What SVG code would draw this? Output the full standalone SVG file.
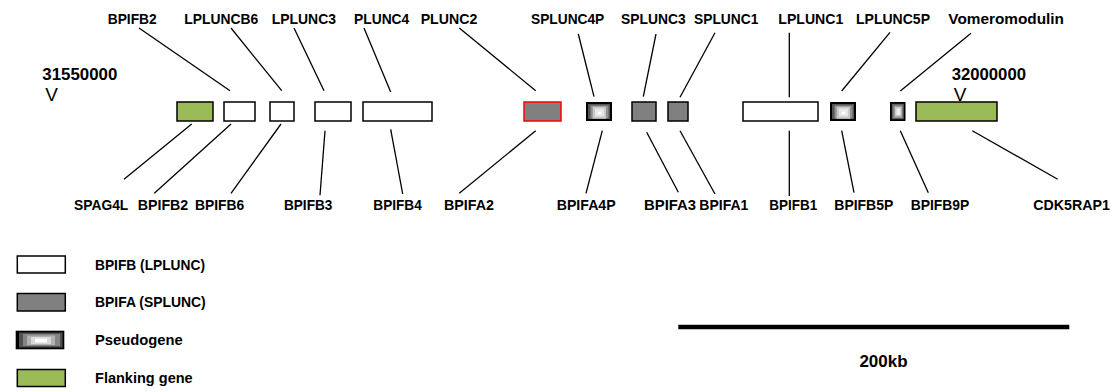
<svg xmlns="http://www.w3.org/2000/svg" width="1117" height="392" viewBox="0 0 1117 392">
<style>
.lb{font-family:"Liberation Sans",Arial,sans-serif;font-weight:bold;font-size:15px;fill:#000}
.lg{font-family:"Liberation Sans",Arial,sans-serif;font-weight:bold;font-size:14.5px;fill:#000}
.pos{font-family:"Liberation Sans",Arial,sans-serif;font-weight:bold;font-size:17px;fill:#000}
.v{font-family:"Liberation Sans",Arial,sans-serif;font-size:19px;fill:#000}
.b{fill:#fff;stroke:#000;stroke-width:1.5}
.a{fill:#808080;stroke:#000;stroke-width:1.5}
.f{fill:#9bbb59;stroke:#000;stroke-width:1.5}
.r{fill:#808080;stroke:#ff0000;stroke-width:1.5}
.c line{stroke:#000;stroke-width:1.3}
</style>
<rect width="1117" height="392" fill="#fff"/>

<text class="pos" x="42.3" y="80" textLength="75" lengthAdjust="spacingAndGlyphs">31550000</text>
<text class="v" x="51.7" y="101" text-anchor="middle">V</text>
<text class="pos" x="951.7" y="80" textLength="74.3" lengthAdjust="spacingAndGlyphs">32000000</text>
<text class="v" x="960" y="101" text-anchor="middle">V</text>

<g class="c" id="connectors">
<line x1="139" y1="28" x2="230" y2="90.7"/>
<line x1="231" y1="28" x2="281.7" y2="90.7"/>
<line x1="294" y1="28" x2="324" y2="90.7"/>
<line x1="364" y1="28" x2="390.7" y2="92"/>
<line x1="459.3" y1="28" x2="535.7" y2="90.7"/>
<line x1="578.3" y1="34" x2="594" y2="96.7"/>
<line x1="656" y1="34" x2="643.3" y2="96.7"/>
<line x1="715" y1="32.7" x2="680" y2="97.3"/>
<line x1="789.3" y1="32.7" x2="789.3" y2="97.3"/>
<line x1="890" y1="32.3" x2="841.7" y2="91"/>
<line x1="971" y1="33.3" x2="900.3" y2="91"/>
<line x1="191.7" y1="124" x2="124" y2="179.3"/>
<line x1="231" y1="124" x2="154.3" y2="193.3"/>
<line x1="281" y1="124" x2="231" y2="193.3"/>
<line x1="325" y1="130.7" x2="320" y2="195.3"/>
<line x1="390.7" y1="129.3" x2="402.7" y2="194"/>
<line x1="535.7" y1="130.7" x2="459.3" y2="193.3"/>
<line x1="602.3" y1="130.7" x2="586" y2="193.3"/>
<line x1="646.7" y1="132.3" x2="678.3" y2="192.3"/>
<line x1="680" y1="130.7" x2="715" y2="194"/>
<line x1="789.3" y1="130.7" x2="789.3" y2="196"/>
<line x1="841.7" y1="130.7" x2="854" y2="192.7"/>
<line x1="900.3" y1="130.7" x2="928.3" y2="192.7"/>
<line x1="972.3" y1="130.7" x2="1057.7" y2="179.3"/>
</g>

<g id="SPAG4L"><rect class="f" x="177" y="102" width="36" height="19"/>
<text class="lb" x="74" y="210" textLength="54.3" lengthAdjust="spacingAndGlyphs">SPAG4L</text></g>
<g id="BPIFB2"><rect class="b" x="224" y="102" width="31" height="19"/>
<text class="lb" x="107.7" y="24" textLength="49" lengthAdjust="spacingAndGlyphs">BPIFB2</text>
<text class="lb" x="137.7" y="210" textLength="50.6" lengthAdjust="spacingAndGlyphs">BPIFB2</text></g>
<g id="BPIFB6"><rect class="b" x="270" y="102" width="24" height="19"/>
<text class="lb" x="184.3" y="24" textLength="74" lengthAdjust="spacingAndGlyphs">LPLUNCB6</text>
<text class="lb" x="195" y="210" textLength="49.3" lengthAdjust="spacingAndGlyphs">BPIFB6</text></g>
<g id="BPIFB3"><rect class="b" x="315" y="102" width="36" height="19"/>
<text class="lb" x="271.7" y="24" textLength="64.3" lengthAdjust="spacingAndGlyphs">LPLUNC3</text>
<text class="lb" x="284" y="210" textLength="48.3" lengthAdjust="spacingAndGlyphs">BPIFB3</text></g>
<g id="BPIFB4"><rect class="b" x="363" y="102" width="69" height="19"/>
<text class="lb" x="354" y="24" textLength="55.3" lengthAdjust="spacingAndGlyphs">PLUNC4</text>
<text class="lb" x="373.3" y="210" textLength="48.4" lengthAdjust="spacingAndGlyphs">BPIFB4</text></g>
<g id="BPIFA2"><rect class="r" x="524" y="102" width="37" height="19"/>
<text class="lb" x="420.7" y="24" textLength="56.6" lengthAdjust="spacingAndGlyphs">PLUNC2</text>
<text class="lb" x="444" y="210" textLength="50" lengthAdjust="spacingAndGlyphs">BPIFA2</text></g>
<g id="BPIFA4P">
<rect x="586" y="102" width="26" height="19" fill="#000"/>
<rect x="588" y="104" width="22" height="15" fill="#555"/>
<rect x="590.5" y="105.5" width="18" height="13" fill="#909090"/>
<rect x="592.7" y="106.7" width="13.3" height="12" fill="#c9c9c9"/>
<rect x="595" y="108.5" width="9" height="8" fill="#e6e6e6"/>
<rect x="597.7" y="111.5" width="3.6" height="2.8" fill="#fff"/>
<text class="lb" x="531" y="24" textLength="73.3" lengthAdjust="spacingAndGlyphs">SPLUNC4P</text>
<text class="lb" x="556.7" y="210" textLength="59" lengthAdjust="spacingAndGlyphs">BPIFA4P</text></g>
<g id="BPIFA3"><rect class="a" x="632" y="102" width="24" height="19"/>
<text class="lb" x="621" y="24" textLength="64.7" lengthAdjust="spacingAndGlyphs">SPLUNC3</text>
<text class="lb" x="644" y="210" textLength="52" lengthAdjust="spacingAndGlyphs">BPIFA3</text></g>
<g id="BPIFA1"><rect class="a" x="668" y="102" width="20" height="19"/>
<text class="lb" x="694" y="24" textLength="64.3" lengthAdjust="spacingAndGlyphs">SPLUNC1</text>
<text class="lb" x="699.3" y="210" textLength="49" lengthAdjust="spacingAndGlyphs">BPIFA1</text></g>
<g id="BPIFB1"><rect class="b" x="743" y="102" width="75" height="19"/>
<text class="lb" x="778.3" y="24" textLength="65" lengthAdjust="spacingAndGlyphs">LPLUNC1</text>
<text class="lb" x="769.3" y="210" textLength="48" lengthAdjust="spacingAndGlyphs">BPIFB1</text></g>
<g id="BPIFB5P">
<rect x="830" y="102" width="26" height="19" fill="#000"/>
<rect x="832" y="104" width="22" height="15" fill="#555"/>
<rect x="834.5" y="105.5" width="18" height="13" fill="#909090"/>
<rect x="836.7" y="106.7" width="13.3" height="12" fill="#c9c9c9"/>
<rect x="839" y="108.5" width="9" height="8" fill="#e6e6e6"/>
<rect x="841.7" y="111.5" width="3.6" height="2.8" fill="#fff"/>
<text class="lb" x="856" y="24" textLength="74" lengthAdjust="spacingAndGlyphs">LPLUNC5P</text>
<text class="lb" x="834.3" y="210" textLength="59" lengthAdjust="spacingAndGlyphs">BPIFB5P</text></g>
<g id="BPIFB9P">
<rect x="890" y="102" width="15.5" height="19" fill="#000"/>
<rect x="891.8" y="103.8" width="12" height="15.4" fill="#606060"/>
<rect x="893.5" y="105.5" width="9" height="12.5" fill="#9a9a9a"/>
<rect x="895" y="107" width="6.5" height="9.5" fill="#c8c8c8"/>
<rect x="896.5" y="108.5" width="3.8" height="6.5" fill="#eee"/>
<text class="lb" x="948.3" y="24" textLength="115.7" lengthAdjust="spacingAndGlyphs">Vomeromodulin</text>
<text class="lb" x="910.7" y="210" textLength="58.6" lengthAdjust="spacingAndGlyphs">BPIFB9P</text></g>
<g id="CDK5RAP1"><rect class="f" x="916" y="102" width="81" height="19"/>
<text class="lb" x="1033.3" y="210" textLength="76.7" lengthAdjust="spacingAndGlyphs">CDK5RAP1</text></g>

<g id="legend">
<rect class="b" x="17.3" y="256" width="48" height="17"/>
<text class="lg" x="95" y="269.5" textLength="110" lengthAdjust="spacingAndGlyphs">BPIFB (LPLUNC)</text>
<rect class="a" x="17.3" y="293.5" width="48" height="17.5"/>
<text class="lg" x="95" y="307" textLength="110.7" lengthAdjust="spacingAndGlyphs">BPIFA (SPLUNC)</text>
<rect x="15.7" y="330.7" width="48.6" height="18.6" fill="#000"/>
<rect x="19" y="332.5" width="43.5" height="15" fill="#505050"/>
<rect x="23" y="334" width="37" height="12" fill="#858585"/>
<rect x="27" y="335.5" width="28" height="9.5" fill="#b0b0b0"/>
<rect x="31" y="337" width="20" height="7" fill="#d8d8d8"/>
<rect x="35" y="338.5" width="12" height="4" fill="#fff"/>
<text class="lg" x="95" y="345" textLength="87.7" lengthAdjust="spacingAndGlyphs">Pseudogene</text>
<rect class="f" x="17.3" y="369.5" width="48" height="17"/>
<text class="lg" x="95" y="383" textLength="97.7" lengthAdjust="spacingAndGlyphs">Flanking gene</text>
</g>

<g id="scalebar">
<line x1="678.3" y1="327" x2="1069.3" y2="327" stroke="#000" stroke-width="4.5"/>
<text class="pos" x="883.5" y="367" text-anchor="middle">200kb</text>
</g>
</svg>
